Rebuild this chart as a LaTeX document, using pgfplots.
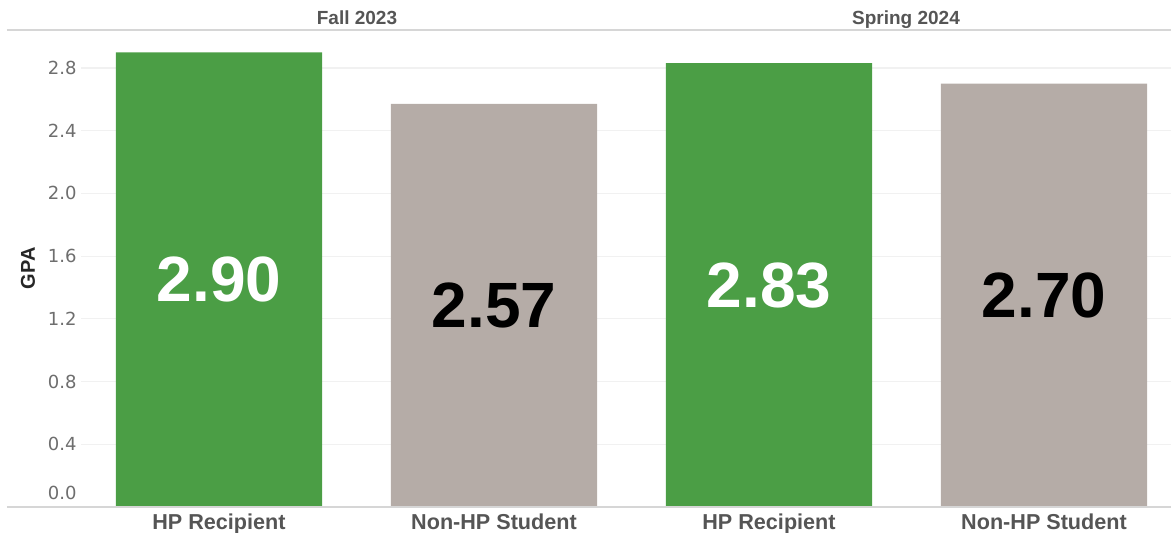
\documentclass[border=0pt]{standalone}
\usepackage{pgfplots}
\pgfplotsset{compat=1.18}
\usepackage{fontspec}
\setmainfont{Liberation Sans}
\newfontfamily\tickfont{DejaVu Sans}

\definecolor{hpgreen}{HTML}{4B9E45}
\definecolor{hpgray}{HTML}{B5ACA7}
\definecolor{labgray}{HTML}{555555}
\definecolor{tickgray}{HTML}{6E6E6E}
\definecolor{rulec}{HTML}{D6D6D6}
\definecolor{gridc}{HTML}{F1F1F1}

\begin{document}
\begin{tikzpicture}
% page size: 1171 x 533 px at 0.5pt per px
\useasboundingbox (-40.75pt,-13pt) rectangle (544.75pt,253.5pt);
\begin{axis}[
  scale only axis,
  width=544.75pt, height=238.5pt,
  xmin=-0.5, xmax=3.4618,
  ymin=0, ymax=3.042,
  ybar, bar shift=0pt, bar width=0.75,
  axis line style={draw=none},
  major tick length=0pt,
  xmajorgrids=false,
  ymajorgrids=true,
  major grid style={draw=gridc, line width=0.6pt},
  ytick={0,0.4,0.8,1.2,1.6,2.0,2.4,2.8},
  yticklabels={\raisebox{7pt}[\height][\depth]{0.0},0.4,0.8,1.2,1.6,2.0,2.4,2.8},
  yticklabel style={anchor=east, inner sep=0pt, xshift=-2.25pt, font=\tickfont\fontsize{9}{10}\selectfont, text=tickgray},
  xtick={0,1,2,3},
  xticklabels={HP Recipient, Non-HP Student, HP Recipient, Non-HP Student},
  xticklabel style={anchor=north, inner sep=0pt, yshift=-3pt, font=\bfseries\fontsize{10.8}{12}\selectfont, text=labgray},
  /pgf/number format/assume math mode=true,
  nodes near coords={\pgfmathprintnumber[fixed, fixed zerofill, precision=2]{\pgfplotspointmeta}},
  visualization depends on={rawy \as \rawy},
  every node near coord/.append style={anchor=center, inner sep=0pt,
    yshift={-0.5*\rawy*238.5/3.042*1pt}, font=\bfseries\fontsize{32}{36}\selectfont},
  clip=false,
]
% green: HP Recipient
\addplot[fill=hpgreen, draw=none, every node near coord/.append style={text=white}]
  coordinates {(0,2.90) (2,2.83)};
% gray: Non-HP Student
\addplot[fill=hpgray, draw=none, every node near coord/.append style={text=black}]
  coordinates {(1,2.57) (3,2.70)};
\end{axis}
\draw[rulec, line width=0.6pt] (-37.25pt,238.5pt) -- (544.75pt,238.5pt);
\draw[rulec, line width=0.6pt] (-37.25pt,0pt) -- (544.75pt,0pt);
\node[anchor=base, font=\bfseries\fontsize{9.5}{11}\selectfont, text=labgray] at (137.75pt,241pt) {Fall 2023};
\node[anchor=base, font=\bfseries\fontsize{9.5}{11}\selectfont, text=labgray] at (412.25pt,241pt) {Spring 2024};
\node[rotate=90, font=\bfseries\fontsize{10}{12}\selectfont, text=black!85] at (-26.75pt,119.25pt) {GPA};
\end{tikzpicture}
\end{document}
